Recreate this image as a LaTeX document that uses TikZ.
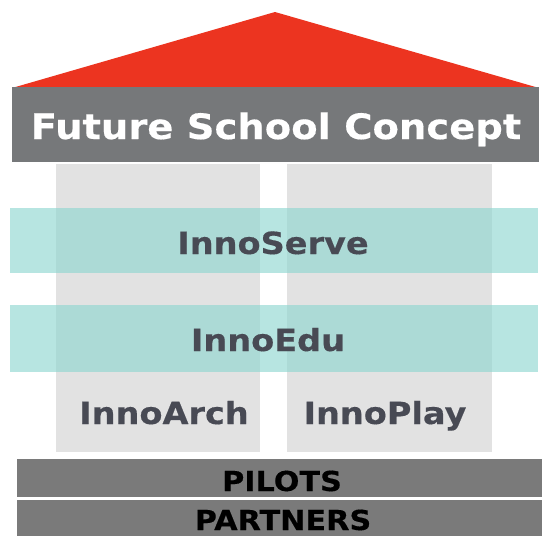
\documentclass[tikz,border=0pt]{standalone}
\usepackage{fontspec}
\setmainfont{DejaVu Sans}
\newfontfamily\vfont{DejaVu Sans Bold}[FakeStretch=1.1,FakeBold=0.4]
\definecolor{roofred}{RGB}{236,52,32}
\definecolor{bargray}{RGB}{118,120,122}
\definecolor{basegray}{RGB}{122,122,122}
\definecolor{pillargray}{RGB}{226,226,226}
\definecolor{bandteal}{RGB}{140,214,208}
\definecolor{labelgray}{RGB}{72,74,84}
\begin{document}
\begin{tikzpicture}[x=1pt,y=-1pt,
  pillar/.style={fill=pillargray,draw=none},
  band/.style={fill=bandteal,fill opacity=0.62,draw=none},
  titlebar/.style={fill=bargray,draw=none},
  basebar/.style={fill=basegray,draw=none},
  lbl/.style={anchor=base,inner sep=0pt,font=\vfont\fontsize{30.5}{30.5}\selectfont,text=labelgray},
  ttl/.style={anchor=base,inner sep=0pt,font=\vfont\fontsize{35}{35}\selectfont,text=white},
  blbl/.style={anchor=base,inner sep=0pt,font=\vfont\fontsize{27.5}{27.5}\selectfont,text=black}]
\useasboundingbox (0,0) rectangle (542,536);
\fill[white] (0,0) rectangle (542,536);
% roof
\fill[roofred] (12,88) -- (275,12) -- (539,88) -- cycle;
% title bar
\fill[titlebar] (12,87) rectangle (539,162);
% pillars
\fill[pillar] (56,164) rectangle (260,452);
\fill[pillar] (287,164) rectangle (492,452);
% bands
\fill[band] (10,208) rectangle (538,273);
\fill[band] (10,305) rectangle (538,372);
% base bars
\fill[basebar] (17,459) rectangle (542,497);
\fill[basebar] (17,500) rectangle (542,536);
% texts
\node[ttl] (title) at (276,139) {Future School Concept};
\node[lbl] (serve) at (273,254) {InnoServe};
\node[lbl] (edu) at (268,351) {InnoEdu};
\node[lbl] (arch) at (164,424) {InnoArch};
\node[lbl] (play) at (385,424) {InnoPlay};
\node[blbl] (pilots) at (282,491) {PILOTS};
\node[blbl] (partners) at (283,530) {PARTNERS};
\end{tikzpicture}
\end{document}
